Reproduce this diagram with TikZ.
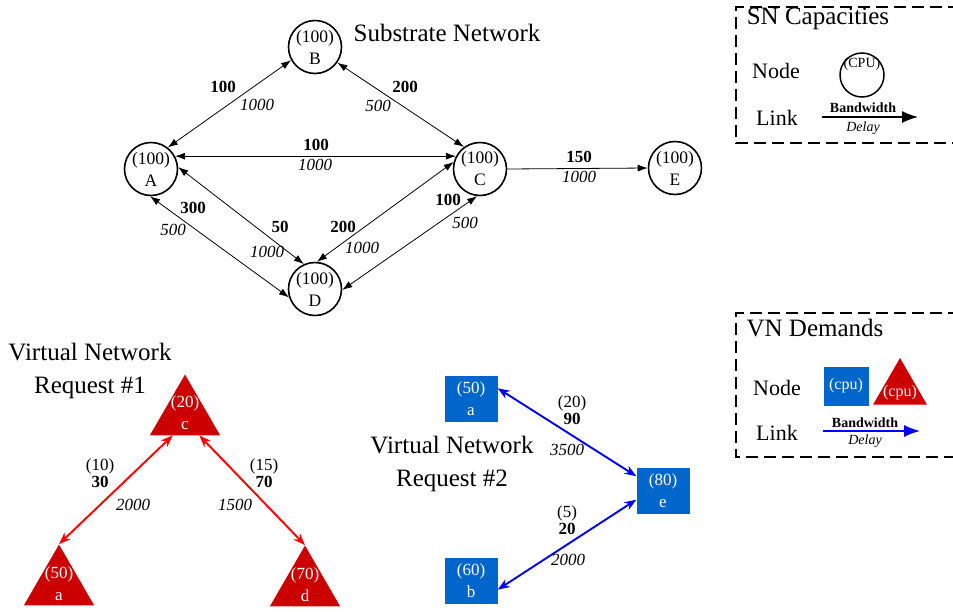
\documentclass[tikz,border=0pt]{standalone}
\usepackage{fontspec}
\setmainfont{Liberation Serif}
\usetikzlibrary{arrows.meta,shapes.geometric}
\definecolor{vnred}{RGB}{204,0,0}
\definecolor{vnblue}{RGB}{0,102,204}
\newcommand{\fsz}[1]{\fontsize{#1}{#1}\selectfont}

\tikzset{
  snnode/.style={circle, draw, line width=1.6pt, minimum size=53pt, inner sep=0pt,
    align=center, font=\fontsize{17.5}{22}\selectfont},
  snlink/.style={{Latex[length=10pt,width=7pt]}-{Latex[length=10pt,width=7pt]}, line width=0.8pt},
  bw/.style={font=\bfseries\fsz{17}},
  dl/.style={font=\itshape\fsz{17}},
  vtri/.style={regular polygon, regular polygon sides=3, fill=vnred, inner sep=0pt, minimum size=81pt},
  vsq/.style={rectangle, fill=vnblue, minimum width=53pt, minimum height=46pt, inner sep=0pt,
    text=white, align=center, font=\fontsize{17}{22}\selectfont},
  vtxt/.style={text=white, align=center, font=\fontsize{17}{22}\selectfont},
  vlab/.style={align=center, font=\fsz{17}},
  redlink/.style={red, line width=1.9pt, {Stealth[length=12pt,width=9pt]}-{Stealth[length=12pt,width=9pt]}},
  bluelink/.style={blue, line width=1.9pt, {Stealth[length=12pt,width=9pt]}-{Stealth[length=12pt,width=9pt]}},
  heading/.style={align=center, font=\fontsize{25}{33}\selectfont},
  legbox/.style={line width=2.5pt, dash pattern=on 12pt off 6pt},
  legtxt/.style={font=\fsz{22}},
}

\begin{document}
\begin{tikzpicture}[x=1pt,y=-1pt]
   \useasboundingbox (0,0) rectangle (953,611);

   % substrate network
   \node[snnode] (A) at (151,169) {(100)\\A};
   \node[snnode] (B) at (315,47) {(100)\\B};
   \node[snnode] (C) at (480,169) {(100)\\C};
   \node[snnode] (D) at (315,289) {(100)\\D};
   \node[snnode] (E) at (675,168) {(100)\\E};
   \node[heading] (snt) at (447,33) {Substrate Network};

   \draw[snlink] (A.52) -- (B.209);
   \draw[snlink] (B.-35) -- (C.126);
   \draw[snlink] (A.28) -- (C.152);
   \draw[snlink] (A.-92) -- (D.198);
   \draw[snlink] (A.4) -- (D.114);
   \draw[snlink] (C.165) -- (D.86);
   \draw[snlink] (C.-96) -- (D.-2);
   \draw[-{Latex[length=10pt,width=7pt]}, line width=0.8pt] (C.east) -- (E.west);

   \node[bw] (ab1) at (223,87) {100};  \node[dl] (ab2) at (257,105) {1000};
   \node[bw] (bc1) at (405,87) {200};  \node[dl] (bc2) at (378,106) {500};
   \node[bw] (ac1) at (316,145) {100}; \node[dl] (ac2) at (315,165) {1000};
   \node[bw] (ce1) at (579,157) {150}; \node[dl] (ce2) at (579,177) {1000};
   \node[bw] (ad1) at (193,208) {300}; \node[dl] (ad2) at (173,230) {500};
   \node[bw] (ad3) at (280,227) {50};  \node[dl] (ad4) at (267,252) {1000};
   \node[bw] (cd1) at (343,227) {200}; \node[dl] (cd2) at (362,248) {1000};
   \node[bw] (cd3) at (448,200) {100}; \node[dl] (cd4) at (465,223) {500};

   % virtual network request 1
   \node[heading] (r1t) at (90,371) {Virtual Network\\Request \#1};
   \node[vtri] (vc) at (185,415) {};
   \node[vtri] (va) at (59,585) {};
   \node[vtri] (vd) at (305,586) {};
   \node[vtxt] (vct) at (185,413) {(20)\\c};
   \node[vtxt] (vat) at (59,584) {(50)\\a};
   \node[vtxt] (vdt) at (305,585) {(70)\\d};
   \draw[redlink] (vc.-121) -- (va.corner 1);
   \draw[redlink] (vc.-55) -- (vd.corner 1);
   \node[vlab] (ca1) at (100,473) {(10)\\\textbf{30}};
   \node[dl] (ca2) at (133,505) {2000};
   \node[vlab] (cd5) at (264,473) {(15)\\\textbf{70}};
   \node[dl] (cd6) at (235,505) {1500};

   % virtual network request 2
   \node[heading] (r2t) at (452,464) {Virtual Network\\Request \#2};
   \node[vsq] (wa) at (471,399) {(50)\\a};
   \node[vsq] (we) at (663,491) {(80)\\e};
   \node[vsq] (wb) at (471,581) {(60)\\b};
   \draw[bluelink] (wa.22) -- (we.151);
   \draw[bluelink] (wb.-18) -- (we.198);
   \node[vlab] (ae1) at (572,410) {(20)\\\textbf{90}};
   \node[dl] (ae2) at (567,450) {3500};
   \node[vlab] (be1) at (567,520) {(5)\\\textbf{20}};
   \node[dl] (be2) at (568,560) {2000};

   % legends
   \draw[legbox] (960,7) -- (736,7) -- (736,143) -- (960,143);
   \node[heading] (snl) at (818,19) {SN Capacities};
   \node[legtxt] (snn) at (776,71) {Node};
   \node[legtxt] (snk) at (777,118) {Link};
   \node[circle, draw, line width=1.5pt, minimum size=44pt, inner sep=0pt] (lc) at (862,75) {};
   \node[font=\fsz{14}] (lct) at (862,64) {(CPU)};
   \coordinate (ls) at (822,117);
   \coordinate (le) at (918,117);
   \draw[-{Latex[length=16pt,width=12pt]}, line width=1.4pt] (ls) -- (le);
   \node[font=\bfseries\fsz{14}] (lbw) at (863,108) {Bandwidth};
   \node[font=\itshape\fsz{14}] (ldl) at (863,128) {Delay};

   \draw[legbox] (960,313) -- (736,313) -- (736,457) -- (960,457);
   \node[heading] (vnl) at (815,328) {VN Demands};
   \node[legtxt] (vnn) at (777,388) {Node};
   \node[legtxt] (vnk) at (777,433) {Link};
   \node[rectangle, fill=vnblue, minimum width=45pt, minimum height=39pt, inner sep=0pt,
     text=white, font=\fsz{16}] (lsq) at (846,386) {(cpu)};
   \node[regular polygon, regular polygon sides=3, fill=vnred, inner sep=0pt,
     minimum size=62pt] (ltr) at (900,389) {};
   \node[text=white, font=\fsz{16}] (ltt) at (900,393) {(cpu)};
   \coordinate (vs) at (823,431);
   \coordinate (ve) at (920,431);
   \draw[blue, -{Latex[length=16pt,width=12pt]}, line width=1.4pt] (vs) -- (ve);
   \node[font=\bfseries\fsz{14}] (vbw) at (865,423) {Bandwidth};
   \node[font=\itshape\fsz{14}] (vdl) at (865,441) {Delay};
\end{tikzpicture}
\end{document}
